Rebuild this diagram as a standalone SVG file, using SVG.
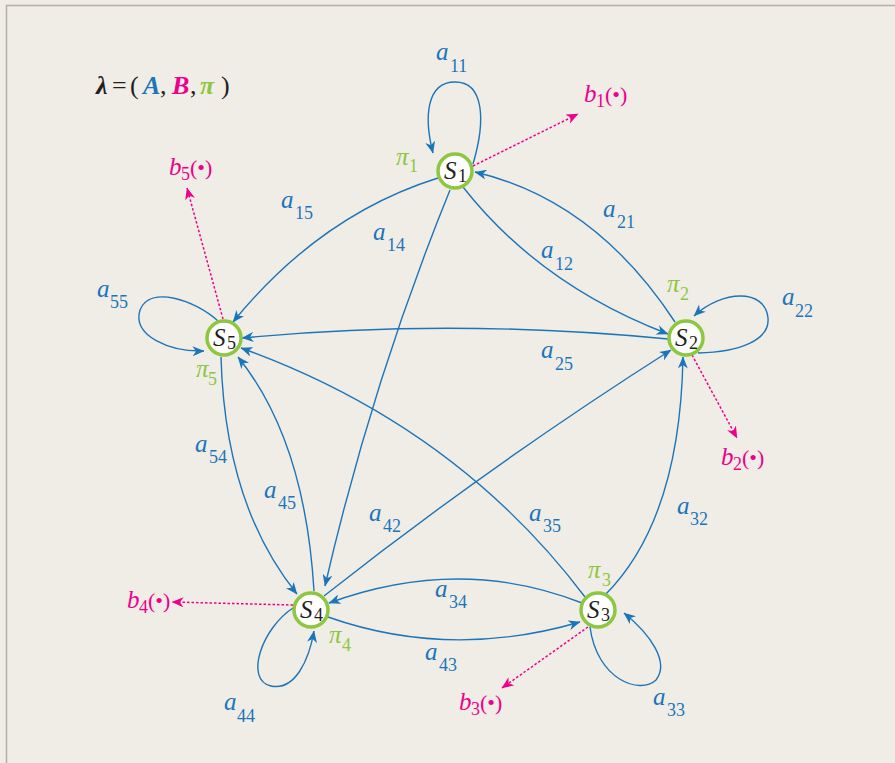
<svg xmlns="http://www.w3.org/2000/svg" width="895" height="763" viewBox="0 0 895 763">
<defs>
<style>
.bg{fill:#f0ede6}
.frame{fill:none;stroke:#b3afa8;stroke-width:1.5}
.e{fill:none;stroke:#1b75bb;stroke-width:1.4;marker-end:url(#ab)}
.d{fill:none;stroke:#ec008c;stroke-width:1.5;stroke-dasharray:2.5 2;marker-end:url(#am)}
.n{fill:#ffffff;stroke:#8dc63f;stroke-width:3.5}
.t{font-family:"Liberation Serif","Times New Roman",serif;font-style:italic}
.big{font-size:25px}
.sub{font-size:18px;font-style:normal}
.par{font-size:22px;font-style:normal}
.blue{fill:#1b75bb}
.mag{fill:#ec008c}
.grn{fill:#8dc63f}
.blk{fill:#231f20}
</style>
<marker id="ab" viewBox="0 0 12 10" refX="11.5" refY="5" markerWidth="12" markerHeight="10" markerUnits="userSpaceOnUse" orient="auto">
<path d="M0,0 L12,5 L0,10 L3.5,5 z" fill="#1b75bb"/>
</marker>
<marker id="am" viewBox="0 0 12 10" refX="11.5" refY="5" markerWidth="12" markerHeight="10" markerUnits="userSpaceOnUse" orient="auto">
<path d="M0,0 L12,5 L0,10 L3.5,5 z" fill="#ec008c"/>
</marker>
</defs>
<rect class="bg" x="0" y="0" width="895" height="763"/>
<path class="frame" d="M6.5,763 L6.5,5.5 L895,5.5"/>

<g id="title" class="t" font-size="26" font-weight="bold">
<text><tspan x="96" y="94" class="blk">λ</tspan><tspan x="112" y="94" class="blk" font-style="normal" font-weight="normal">=</tspan><tspan x="130" y="94" class="blk" font-style="normal" font-weight="normal">(</tspan><tspan x="143" y="94" class="blue">A</tspan><tspan x="160" y="94" class="blk" font-style="normal" font-weight="normal">,</tspan><tspan x="172" y="94" class="mag">B</tspan><tspan x="190" y="94" class="blk" font-style="normal" font-weight="normal">,</tspan><tspan x="200" y="94" class="grn">π</tspan><tspan x="221" y="94" class="blk" font-style="normal" font-weight="normal">)</tspan></text>
</g>

<g id="connectors">
<path class="e" d="M473,164 C486,120 484,82 455,82 C426,82 424,118 433,153"/>
<path class="e" d="M698,353 C740,352 770,340 768,318 C765,288 722,290 694,316"/>
<path class="e" d="M590,627 C597,680 640,695 656,680 C670,662 650,634 624,613"/>
<path class="e" d="M293,608 C262,628 244,680 271,686 C295,691 309,660 314,631"/>
<path class="e" d="M218,321 C195,300 150,285 140,310 C132,336 170,352 204,351"/>
<path class="e" d="M463,187 Q540,285 668,334"/>
<path class="e" d="M675,322 Q595,200 475,172"/>
<path class="e" d="M438,178 Q320,215 233,322"/>
<path class="e" d="M450,190 Q372,382 325,586"/>
<path class="e" d="M668,339 Q450,318 242,338"/>
<path class="e" d="M221,357 Q225,505 297,594"/>
<path class="e" d="M314,591 Q305,440 238,357"/>
<path class="e" d="M324,596 Q490,465 671,350"/>
<path class="e" d="M585,597 Q455,425 241,348"/>
<path class="e" d="M605,595 Q680,520 683,357"/>
<path class="e" d="M582,603 Q460,555 329,603"/>
<path class="e" d="M328,617 Q450,660 580,622"/>
<path class="d" d="M473,166 L578,114"/>
<path class="d" d="M223,319 L187,188"/>
<path class="d" d="M692,355 L737,438"/>
<path class="d" d="M588,627 L502,688"/>
<path class="d" d="M293,605 L172,602"/>
</g>

<g id="S1"><circle class="n" cx="455" cy="171" r="17"/><text class="t blk"><tspan x="444" y="179" font-size="25">S</tspan><tspan class="sub" x="458" y="182">1</tspan></text></g>
<g id="S2"><circle class="n" cx="686" cy="338" r="17"/><text class="t blk"><tspan x="675" y="346" font-size="25">S</tspan><tspan class="sub" x="689" y="349">2</tspan></text></g>
<g id="S3"><circle class="n" cx="598" cy="610" r="17"/><text class="t blk"><tspan x="587" y="618" font-size="25">S</tspan><tspan class="sub" x="601" y="621">3</tspan></text></g>
<g id="S4"><circle class="n" cx="311" cy="610" r="17"/><text class="t blk"><tspan x="300" y="618" font-size="25">S</tspan><tspan class="sub" x="314" y="621">4</tspan></text></g>
<g id="S5"><circle class="n" cx="224" cy="338" r="17"/><text class="t blk"><tspan x="213" y="346" font-size="25">S</tspan><tspan class="sub" x="227" y="349">5</tspan></text></g>

<g id="labels-a" class="t blue">
<text><tspan class="big" x="436" y="60">a</tspan><tspan class="sub" x="450" y="72">11</tspan></text>
<text><tspan class="big" x="281" y="208">a</tspan><tspan class="sub" x="295" y="219">15</tspan></text>
<text><tspan class="big" x="373" y="240">a</tspan><tspan class="sub" x="387" y="251">14</tspan></text>
<text><tspan class="big" x="541" y="258">a</tspan><tspan class="sub" x="555" y="270">12</tspan></text>
<text><tspan class="big" x="603" y="217">a</tspan><tspan class="sub" x="617" y="228">21</tspan></text>
<text><tspan class="big" x="541" y="358">a</tspan><tspan class="sub" x="555" y="370">25</tspan></text>
<text><tspan class="big" x="782" y="305">a</tspan><tspan class="sub" x="795" y="317">22</tspan></text>
<text><tspan class="big" x="97" y="297">a</tspan><tspan class="sub" x="110" y="308">55</tspan></text>
<text><tspan class="big" x="195" y="452">a</tspan><tspan class="sub" x="209" y="463">54</tspan></text>
<text><tspan class="big" x="264" y="498">a</tspan><tspan class="sub" x="278" y="509">45</tspan></text>
<text><tspan class="big" x="369" y="521">a</tspan><tspan class="sub" x="383" y="532">42</tspan></text>
<text><tspan class="big" x="529" y="521">a</tspan><tspan class="sub" x="543" y="532">35</tspan></text>
<text><tspan class="big" x="677" y="514">a</tspan><tspan class="sub" x="690" y="525">32</tspan></text>
<text><tspan class="big" x="435" y="597">a</tspan><tspan class="sub" x="449" y="608">34</tspan></text>
<text><tspan class="big" x="425" y="660">a</tspan><tspan class="sub" x="439" y="671">43</tspan></text>
<text><tspan class="big" x="653" y="705">a</tspan><tspan class="sub" x="667" y="716">33</tspan></text>
<text><tspan class="big" x="224" y="710">a</tspan><tspan class="sub" x="237" y="722">44</tspan></text>
</g>

<g id="labels-pi" class="t grn">
<text><tspan class="big" x="396" y="165">π</tspan><tspan class="sub" x="409" y="172">1</tspan></text>
<text><tspan class="big" x="667" y="292">π</tspan><tspan class="sub" x="680" y="300">2</tspan></text>
<text><tspan class="big" x="588" y="578">π</tspan><tspan class="sub" x="602" y="586">3</tspan></text>
<text><tspan class="big" x="329" y="643">π</tspan><tspan class="sub" x="342" y="651">4</tspan></text>
<text><tspan class="big" x="196" y="377">π</tspan><tspan class="sub" x="208" y="385">5</tspan></text>
</g>

<g id="labels-b" class="t mag">
<text><tspan class="big" x="584" y="102">b</tspan><tspan class="sub" x="596" y="107">1</tspan><tspan class="par" x="605" y="102">(•)</tspan></text>
<text><tspan class="big" x="169" y="175">b</tspan><tspan class="sub" x="181" y="180">5</tspan><tspan class="par" x="190" y="175">(•)</tspan></text>
<text><tspan class="big" x="721" y="465">b</tspan><tspan class="sub" x="733" y="470">2</tspan><tspan class="par" x="742" y="465">(•)</tspan></text>
<text><tspan class="big" x="459" y="710">b</tspan><tspan class="sub" x="471" y="715">3</tspan><tspan class="par" x="480" y="710">(•)</tspan></text>
<text><tspan class="big" x="127" y="608">b</tspan><tspan class="sub" x="139" y="613">4</tspan><tspan class="par" x="148" y="608">(•)</tspan></text>
</g>
</svg>
